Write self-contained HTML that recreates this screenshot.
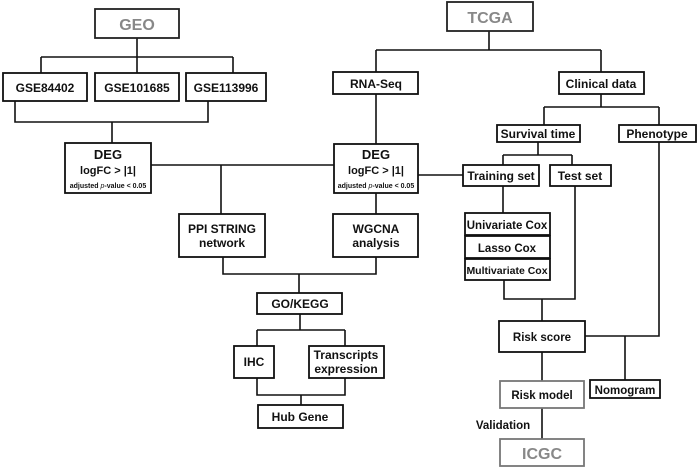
<!DOCTYPE html>
<html><head><meta charset="utf-8"><style>
html,body{margin:0;padding:0;background:#fff}
svg{display:block}
text{font-family:"Liberation Sans",Arial,sans-serif;font-weight:bold;text-anchor:middle;fill:#111}
</style></head><body>
<svg width="700" height="468" viewBox="0 0 700 468" xmlns="http://www.w3.org/2000/svg">
<g fill="none" stroke="#111" stroke-width="1.6">
<!-- GEO tree -->
<path d="M137 38V57M41 57H233M41 57V73M137 57V73M233 57V73"/>
<path d="M15 101V122H208V101M112 122V143"/>
<path d="M151 165H334M221 165V214"/>
<!-- TCGA tree -->
<path d="M489 31V50H376M489 50H601M376 50V72M601 50V72"/>
<path d="M376 94V144M376 193V214"/>
<path d="M601 94V107H544M601 107H659M544 107V125M659 107V125"/>
<path d="M538 142V155H503M538 155H572M503 155V165M572 155V165"/>
<path d="M418 175H463"/>
<path d="M503 186V213M575 186V299H504V280M542 299V321"/>
<path d="M659 142V336H585M625 336V380"/>
<path d="M542 352V381M542 408V439"/>
<!-- center -->
<path d="M223 257V274H376V257M299 274V293"/>
<path d="M300 314V330M257 330H345M257 330V346M345 330V346"/>
<path d="M257 378V395H345V378M301 395V405"/>
</g>
<g fill="#fff" stroke="#111" stroke-width="1.8">
<rect x="95" y="9" width="84" height="29" stroke="#222"/>
<rect x="3" y="73" width="84" height="28"/>
<rect x="95" y="73" width="84" height="28"/>
<rect x="186" y="73" width="80" height="28"/>
<rect x="65" y="143" width="86" height="50"/>
<rect x="447" y="2" width="86" height="29" stroke="#222"/>
<rect x="333" y="72" width="85" height="22"/>
<rect x="559" y="72" width="85" height="22"/>
<rect x="334" y="144" width="84" height="49"/>
<rect x="497" y="125" width="83" height="17"/>
<rect x="619" y="125" width="77" height="17"/>
<rect x="463" y="165" width="76" height="21"/>
<rect x="550" y="165" width="61" height="21"/>
<rect x="465" y="213" width="85" height="22"/>
<rect x="465" y="236" width="85" height="22"/>
<rect x="465" y="259" width="85" height="21"/>
<rect x="499" y="321" width="86" height="31"/>
<rect x="590" y="380" width="70" height="18"/>
<rect x="500" y="381" width="84" height="27" stroke="#777"/>
<rect x="500" y="439" width="84" height="27" stroke="#777"/>
<rect x="179" y="214" width="86" height="43"/>
<rect x="333" y="214" width="85" height="43"/>
<rect x="257" y="293" width="85" height="21"/>
<rect x="234" y="346" width="40" height="32"/>
<rect x="309" y="346" width="75" height="32"/>
<rect x="258" y="405" width="85" height="23"/>
</g>
<g font-size="12">
<text x="137" y="30" font-size="16" fill="#888" style="fill:#888">GEO</text>
<text x="45" y="92">GSE84402</text>
<text x="137" y="92">GSE101685</text>
<text x="226" y="92">GSE113996</text>
<text x="108" y="159" font-size="13">DEG</text>
<text x="108" y="174" font-size="11">logFC &gt; |1|</text>
<text x="108" y="188" font-size="7">adjusted <tspan font-style="italic" font-weight="normal">p</tspan>-value &lt; 0.05</text>
<text x="490" y="23" font-size="16" style="fill:#888">TCGA</text>
<text x="376" y="88">RNA-Seq</text>
<text x="601" y="88">Clinical data</text>
<text x="376" y="159" font-size="13">DEG</text>
<text x="376" y="174" font-size="11">logFC &gt; |1|</text>
<text x="376" y="188" font-size="7">adjusted <tspan font-style="italic" font-weight="normal">p</tspan>-value &lt; 0.05</text>
<text x="538" y="138">Survival time</text>
<text x="657" y="138">Phenotype</text>
<text x="501" y="180">Training set</text>
<text x="580" y="180">Test set</text>
<text x="507" y="229" font-size="11.5">Univariate Cox</text>
<text x="507" y="252" font-size="11.5">Lasso Cox</text>
<text x="507" y="274" font-size="10.5">Multivariate Cox</text>
<text x="542" y="341" font-size="11.5">Risk score</text>
<text x="625" y="394" font-size="11.5">Nomogram</text>
<text x="542" y="399" font-size="11.5">Risk model</text>
<text x="503" y="429" font-size="11.5">Validation</text>
<text x="542" y="459" font-size="16" style="fill:#888">ICGC</text>
<text x="222" y="233">PPI STRING</text>
<text x="222" y="247">network</text>
<text x="376" y="233">WGCNA</text>
<text x="376" y="247">analysis</text>
<text x="300" y="308">GO/KEGG</text>
<text x="254" y="366">IHC</text>
<text x="346" y="359">Transcripts</text>
<text x="346" y="373">expression</text>
<text x="300" y="421">Hub Gene</text>
</g>
</svg>
</body></html>
